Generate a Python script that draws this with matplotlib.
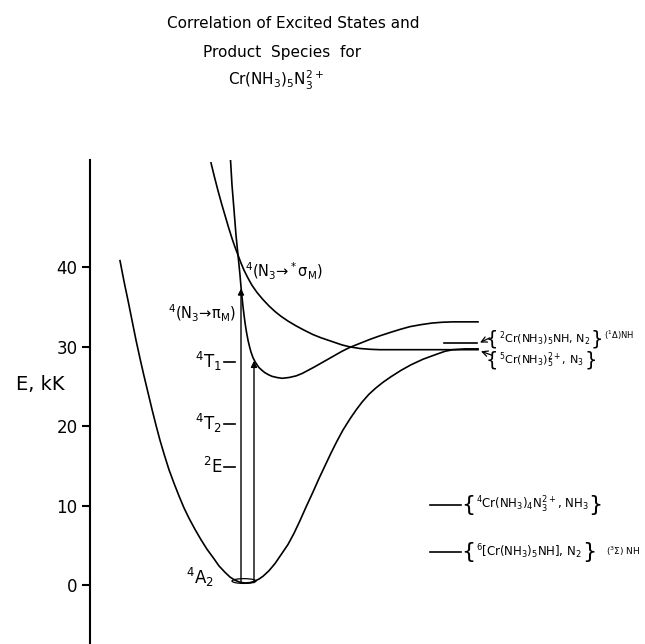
import numpy as np
import matplotlib
matplotlib.use('Agg')
import matplotlib.pyplot as plt
from matplotlib.patches import Ellipse

plt.rcParams['font.family'] = ['DejaVu Sans']
plt.rcParams['mathtext.default'] = 'regular'

# ground state 4A2 : reaction coordinate (arb.), energy (kK)
ground_r = [3.0, 3.4, 3.8, 4.2, 4.6, 5.0, 5.4, 5.8, 6.2, 6.6, 7.0, 7.45, 7.9, 8.4, 8.9, 9.4,
            9.9, 10.5, 11.1, 11.7, 12.4, 12.9, 13.5, 14.0, 14.5, 15.0, 15.5, 16.0, 16.4,
            16.9, 17.3, 17.9, 18.5, 19.1, 19.8, 20.4, 21.0, 21.6, 22.3, 22.9, 23.5, 24.1,
            24.7, 25.3, 26.0, 26.6, 27.2, 27.9, 28.6, 29.3, 30.1, 31.1, 32.1, 33.3, 34.6,
            35.5, 36.3, 37.5, 38.8]
ground_e = [40.8, 38.2, 35.8, 33.3, 30.8, 28.5, 26.3, 24.2, 22.1, 20.1, 18.2, 16.3, 14.5,
            12.8, 11.2, 9.7, 8.4, 7.0, 5.7, 4.5, 3.3, 2.4, 1.6, 1.0, 0.6, 0.35, 0.25, 0.3,
            0.45, 0.75, 1.1, 1.8, 2.7, 3.8, 5.1, 6.5, 8.1, 9.8, 11.7, 13.4, 15.0, 16.6,
            18.1, 19.5, 20.9, 22.0, 23.0, 24.0, 24.8, 25.5, 26.2, 27.0, 27.7, 28.4, 29.0,
            29.4, 29.6, 29.7, 29.7]

# repulsive 4(N3 -> *sigma_M) state
sigma_r = [12.1, 12.45, 12.8, 13.15, 13.5, 13.85, 14.2, 14.5, 14.8, 15.1, 15.4, 15.8, 16.2,
           16.7, 17.3, 17.9, 18.5, 19.1, 19.8, 20.6, 21.5, 22.3, 23.1, 23.8, 24.5, 25.2,
           26.0, 27.0, 28.0, 29.0, 30.1, 33.0, 38.8]
sigma_e = [53.1, 51.3, 49.6, 48.0, 46.5, 45.0, 43.6, 42.5, 41.5, 40.5, 39.6, 38.6, 37.7,
           36.8, 35.9, 35.1, 34.4, 33.8, 33.2, 32.6, 32.0, 31.5, 31.1, 30.8, 30.5, 30.2,
           29.95, 29.75, 29.65, 29.6, 29.6, 29.6, 29.6]

# 4(N3 -> pi_M) / 4T1 state
pi_r = [14.05, 14.2, 14.4, 14.6, 14.8, 15.0, 15.1, 15.3, 15.5, 15.65, 15.8, 15.95, 16.1,
        16.3, 16.5, 16.7, 16.9, 17.2, 17.5, 17.85, 18.2, 18.7, 19.2, 19.9, 20.6, 21.2,
        21.8, 22.4, 23.1, 23.8, 24.5, 25.2, 26.0, 27.0, 28.0, 29.0, 30.1, 31.0, 32.0,
        33.1, 34.2, 35.2, 36.3, 38.8]
pi_e = [53.5, 50.3, 47.2, 44.0, 41.5, 39.0, 37.5, 35.0, 33.0, 31.8, 30.8, 30.0, 29.3,
        28.6, 28.1, 27.7, 27.35, 27.0, 26.7, 26.45, 26.25, 26.1, 26.0, 26.1, 26.3, 26.6,
        27.0, 27.4, 27.9, 28.4, 28.9, 29.4, 29.9, 30.4, 30.9, 31.35, 31.8, 32.15, 32.5,
        32.75, 32.95, 33.05, 33.1, 33.1]

# short product level
mid_r = [35.4, 38.7]
mid_e = [30.4, 30.4]

# vertical excitations
arrow_r = [15.1, 16.4]
arrow_top = [37.3, 28.2]
arrow_base = 0.3

# spectroscopic levels
level_names = [r'$^4$T$_1$', r'$^4$T$_2$', r'$^2$E']
level_e = [28.1, 20.3, 14.8]

# lower product levels
prod_e = [10.1, 4.2]
prod_labels = [r'$^4$Cr(NH$_3$)$_4$N$_3^{2+}$, NH$_3$',
               r'$^6$[Cr(NH$_3$)$_5$NH], N$_2$']

tick_vals = [0, 10, 20, 30, 40]

fig = plt.figure(figsize=(6.45, 6.44), dpi=100)
ax = fig.add_axes([90 / 645, 0, 555 / 645, 484 / 644])
ax.set_xlim(0, 55.5)
ax.set_ylim(-7.42, 53.46)
for s in ['top', 'right', 'bottom']:
    ax.spines[s].set_visible(False)
ax.spines['left'].set_linewidth(1.5)
ax.set_xticks([])
ax.set_yticks(tick_vals)
ax.tick_params(axis='y', direction='out', length=6, width=1.5, labelsize=12, pad=3)

lw = 1.2
for rr, ee in [(ground_r, ground_e), (sigma_r, sigma_e), (pi_r, pi_e), (mid_r, mid_e)]:
    ax.plot(rr, ee, color='black', lw=lw, solid_joinstyle='round')
ax.add_patch(Ellipse((15.4, 0.5), 2.4, 0.6, fill=False, lw=0.9, color='black'))

for r, top in zip(arrow_r, arrow_top):
    ax.annotate('', xy=(r, top), xytext=(r, arrow_base),
                arrowprops=dict(arrowstyle='-|>', lw=1.0, color='black',
                                mutation_scale=9, shrinkA=0, shrinkB=0))

for name, e in zip(level_names, level_e):
    ax.plot([13.4, 14.5], [e, e], color='black', lw=1.2)
    ax.text(13.2, e, name, ha='right', va='center', fontsize=12)

ax.text(11.0, 1.0, r'$^4$A$_2$', ha='center', va='center', fontsize=12)
ax.text(14.6, 34.2, r'$^4$(N$_3$→$\pi_M$)', ha='right', va='center', fontsize=10.5)
ax.text(15.5, 39.4, r'$^4$(N$_3$→$^*\sigma_M$)', ha='left', va='center', fontsize=10.5)

fig.canvas.draw()
renderer = fig.canvas.get_renderer()


def to_data_x(xdisp):
    return ax.transData.inverted().transform((xdisp, 0))[0]


def brace_label(x, y, body, fs=9, bfs=17):
    # tall braces around a product label
    b1 = ax.text(x, y, '{', fontsize=bfs, ha='left', va='center')
    x1 = to_data_x(b1.get_window_extent(renderer).x1) + 0.05
    t = ax.text(x1, y, body, fontsize=fs, ha='left', va='center')
    x2 = to_data_x(t.get_window_extent(renderer).x1) + 0.05
    b2 = ax.text(x2, y, '}', fontsize=bfs, ha='left', va='center')
    return to_data_x(b2.get_window_extent(renderer).x1)


# upper product labels with small arrows
ax.annotate('', xy=(39.0, 30.5), xytext=(40.0, 31.1),
            arrowprops=dict(arrowstyle='->', lw=0.9, color='black', shrinkA=0, shrinkB=0))
ax.annotate('', xy=(39.1, 29.4), xytext=(40.2, 28.9),
            arrowprops=dict(arrowstyle='->', lw=0.9, color='black', shrinkA=0, shrinkB=0))
end = brace_label(39.6, 31.0, r'$^2$Cr(NH$_3$)$_5$NH, N$_2$', fs=8, bfs=14)
ax.text(end + 0.1, 31.4, r'($^1\Delta$)NH', ha='left', va='center', fontsize=6)
brace_label(39.6, 28.3, r'$^5$Cr(NH$_3$)$_5^{2+}$, N$_3$', fs=8, bfs=14)

for e, lab in zip(prod_e, prod_labels):
    ax.plot([34.0, 37.1], [e, e], color='black', lw=1.2)
    brace_label(37.1, e, lab, fs=8.5, bfs=16)
ax.text(51.6, 4.2, r'($^3\Sigma$) NH', ha='left', va='center', fontsize=6.5)

ax.text(-5.0, 25.2, 'E, kK', ha='center', va='center', fontsize=14, clip_on=False)

fig.text(167 / 645, 1 - 23 / 644, 'Correlation of Excited States and', ha='left', va='center',
         fontsize=11)
fig.text(203 / 645, 1 - 52 / 644, 'Product  Species  for', ha='left', va='center', fontsize=11)
fig.text(228 / 645, 1 - 80 / 644, r'Cr(NH$_3$)$_5$N$_3^{2+}$', ha='left', va='center',
         fontsize=11)

fig.savefig('out.png', dpi=100, facecolor='white')
